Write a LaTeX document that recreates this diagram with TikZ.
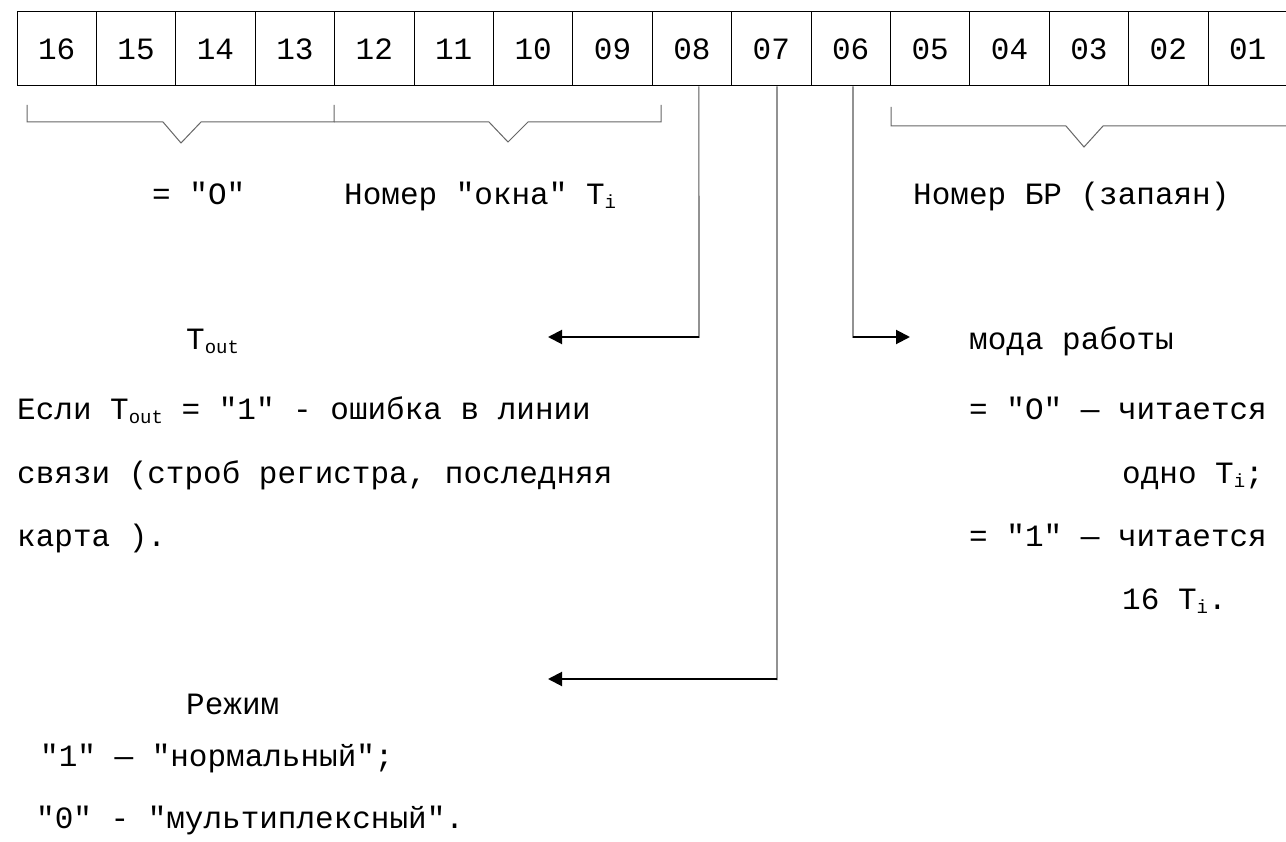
\documentclass[tikz,border=0pt]{standalone}
\usepackage{fontspec}
\setmonofont{Liberation Mono}
\usetikzlibrary{arrows.meta}
\newcommand\mysub[1]{\raisebox{-4pt}{\fontsize{19pt}{19pt}\selectfont #1}}
\begin{document}
\begin{tikzpicture}[x=1pt,y=-1pt,
 txt/.style={font=\ttfamily\fontsize{31pt}{31pt}\selectfont, inner sep=0pt, anchor=base west},
 bitbox/.style={draw=black, line width=1pt, minimum width=79.4pt, minimum height=74pt, inner sep=0pt, font=\ttfamily\fontsize{31pt}{31pt}\selectfont},
 brace/.style={draw=black!60, line width=1pt},
 stem/.style={draw=black!65, line width=1.1pt},
 arr/.style={draw=black, line width=2pt, -{Triangle[length=14pt,width=14pt]}}
]
\useasboundingbox (0,0) rectangle (1286,842);
\fill[white] (0,0) rectangle (1286,842);
% bit boxes
\foreach \lab [count=\k] in {16,15,14,13,12,11,10,09,08,07,06,05,04,03,02,01}
  \node[bitbox] (b\lab) at ({17+79.4*(\k-0.5)},49) {\lab\hspace{8pt}};
% brackets
\draw[brace] (27,105) -- (27,122) -- (163,122) -- (181,143) -- (201,122) -- (334,122) -- (334,105);
\draw[brace] (334,122) -- (489,122) -- (508,142) -- (528,122) -- (661,122) -- (661,105);
\draw[brace] (891,107) -- (891,126) -- (1066,126) -- (1084,147) -- (1103,126) -- (1295,126);
% texts
\node[txt] (eq0) at (152,205) {= "O"};
\node[txt] (okna) at (344,205) {Номер "окна" T\mysub{i}};
\node[txt] (br) at (913,205) {Номер БР (запаян)};
\node[txt] (tout) at (186,350) {T\mysub{out}};
\node[txt] (e1) at (17,420) {Если T\mysub{out} = "1" - ошибка в линии};
\node[txt] (e2) at (17,483) {связи (строб регистра, последняя};
\node[txt] (e3) at (17,546) {карта ).};
\node[txt] (moda) at (969,350) {мода работы};
\node[txt] (r0) at (969,420) {= "O" — читается};
\node[txt] (r1) at (1122,483) {одно T\mysub{i};};
\node[txt] (r2) at (969,546) {= "1" — читается};
\node[txt] (r3) at (1122,609) {16 T\mysub{i}.};
\node[txt] (rez) at (186,714) {Режим};
\node[txt] (n1) at (40,766) {"1" — "нормальный";};
\node[txt] (n0) at (36,828) {"0" - "мультиплексный".};
% connectors
\coordinate (k08) at (699,337);
\coordinate (toutend) at (548,337);
\coordinate (k07) at (777,679);
\coordinate (rezend) at (548,679);
\coordinate (k06) at (853,337);
\coordinate (modaend) at (910,337);
\draw[stem] ([xshift=7pt]b08.south) -- ([yshift=-1pt]k08);
\draw[arr] (k08) -- (toutend);
\draw[stem] ([xshift=5.7pt]b07.south) -- ([yshift=-1pt]k07);
\draw[arr] (k07) -- (rezend);
\draw[stem] ([xshift=2.3pt]b06.south) -- ([yshift=-1pt]k06);
\draw[arr] (k06) -- (modaend);
\end{tikzpicture}
\end{document}
